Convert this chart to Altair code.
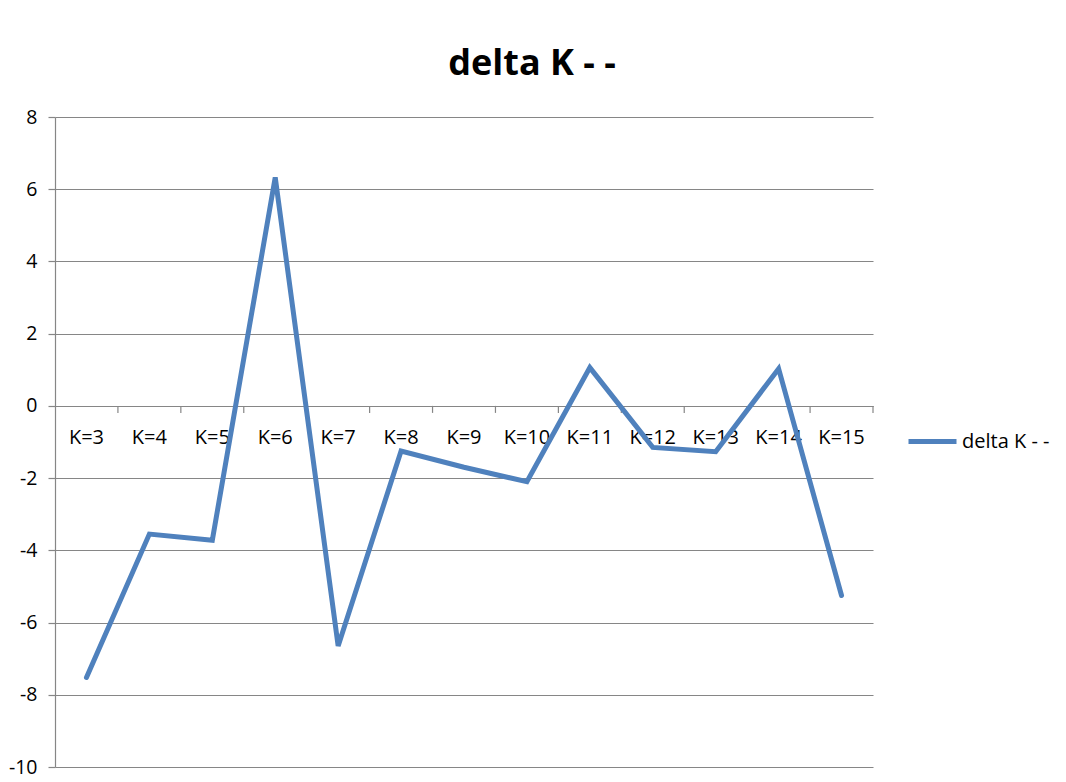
import altair as alt
import pandas as pd

categories = ["K=3", "K=4", "K=5", "K=6", "K=7", "K=8", "K=9", "K=10",
              "K=11", "K=12", "K=13", "K=14", "K=15"]
values = [-7.52, -3.55, -3.72, 6.33, -6.65, -1.25, -1.7, -2.1,
          1.06, -1.15, -1.27, 1.03, -5.25]
series_name = "delta K - -"
y_ticks = [-10, -8, -6, -4, -2, 0, 2, 4, 6, 8]

df = pd.DataFrame({"K": categories, "value": values, "series": series_name})

FONT = "Open Sans"
GRAY = "#868686"
BLUE = "#4F81BD"
PLOT_W, PLOT_H = 818, 650
ZERO_OFFSET = -round(PLOT_H * 10 / 18)  # move x-axis up to y = 0

xscale = alt.Scale(paddingInner=0, paddingOuter=0)
yscale = alt.Scale(domain=[-10, 8], nice=False, zero=False)

x_axis = alt.Axis(labelAngle=0, ticks=False, domain=True,
                  domainColor=GRAY, domainWidth=1.2, offset=ZERO_OFFSET,
                  labelPadding=21, labelFont=FONT, labelFontSize=20,
                  labelColor="#000000", grid=False)
y_axis = alt.Axis(values=y_ticks, grid=True, gridColor=GRAY, gridWidth=1.2,
                  domainColor=GRAY, domainWidth=1.2, tickColor=GRAY,
                  tickSize=7, tickWidth=1.2, labelPadding=11,
                  labelExpr="'' + datum.value",
                  labelFont=FONT, labelFontSize=19.5, labelColor="#000000")

line = alt.Chart(df).mark_line(strokeWidth=5, strokeJoin="miter", strokeCap="round").encode(
    x=alt.X("K:N", sort=categories, scale=xscale, title=None, axis=x_axis),
    y=alt.Y("value:Q", scale=yscale, title=None, axis=y_axis),
    color=alt.Color("series:N", scale=alt.Scale(range=[BLUE]), title=None,
                    legend=alt.Legend(orient="none", legendX=851, legendY=298,
                                      symbolType="stroke", symbolSize=2304,
                                      symbolStrokeWidth=5, labelFont=FONT,
                                      labelFontSize=20, labelColor="#000000",
                                      labelOffset=3, padding=0)),
)

# category boundary tick marks hanging below the zero line
ticks = alt.Chart(df).mark_rule(color=GRAY, strokeWidth=1.2, y2Offset=7).encode(
    x=alt.X("K:N", sort=categories, scale=xscale, title=None, bandPosition=1, axis=x_axis),
    y=alt.Y(datum=0, scale=yscale, title=None, axis=y_axis),
    y2=alt.Y2(datum=0),
)

chart = alt.layer(ticks, line).properties(
    width=PLOT_W,
    height=PLOT_H,
    background="white",
    title=alt.TitleParams(series_name, font=FONT, fontSize=36, fontWeight="bold",
                          color="#000000", anchor="middle", dx=68, offset=24),
    autosize=alt.AutoSizeParams(type="none"),
    padding={"left": 47, "top": 109, "right": 180, "bottom": 15},
).configure_view(strokeWidth=0)

chart.save("out.html", embed_options={"renderer": "svg", "actions": False})
